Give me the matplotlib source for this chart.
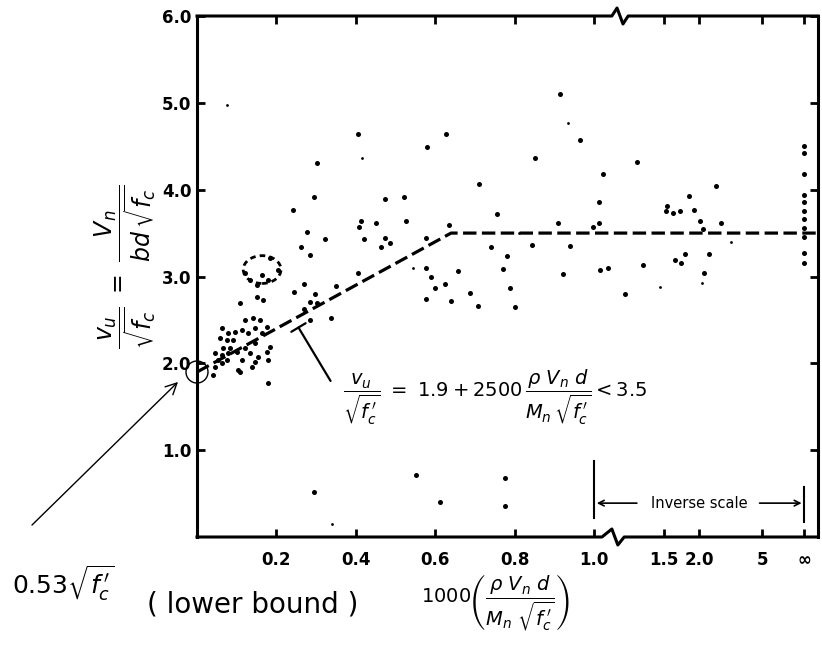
import numpy as np
import matplotlib
matplotlib.use('Agg')
import matplotlib.pyplot as plt
import matplotlib.transforms as mtransforms
from matplotlib.patches import Ellipse

# 1000 * rho*Vn*d / (Mn*sqrt(fc'))  -> x,  vu/sqrt(fc') -> y
ratio = [
    # dense group near the origin
    0.121, 0.134, 0.164, 0.179, 0.151, 0.151, 0.166, 0.108, 0.121, 0.141,
    0.159, 0.176, 0.063, 0.078, 0.096, 0.113, 0.128, 0.146, 0.164, 0.058,
    0.076, 0.091, 0.146, 0.066, 0.083, 0.101, 0.121, 0.045, 0.063, 0.078,
    0.134, 0.053, 0.076, 0.045, 0.063, 0.113, 0.154, 0.176, 0.103, 0.139,
    0.146, 0.179, 0.040, 0.179, 0.184, 0.108, 0.184, 0.204,
    # 0.2 - 0.8
    0.405, 0.627, 0.579, 0.302, 0.710, 0.295, 0.474, 0.521, 0.242, 0.756,
    0.413, 0.408, 0.451, 0.526, 0.635, 0.277, 0.322, 0.262, 0.421, 0.474,
    0.486, 0.463, 0.577, 0.741, 0.285, 0.577, 0.589, 0.657, 0.625, 0.600,
    0.577, 0.640, 0.688, 0.708, 0.405, 0.270, 0.244, 0.350, 0.297, 0.285,
    0.302, 0.270, 0.285, 0.338,
    # 0.8 - 1.0
    0.914, 0.965, 0.851, 0.909, 0.997, 0.844, 0.940, 0.781, 0.771, 0.788,
    0.801, 0.922,
    # low values
    0.552, 0.776, 0.612, 0.776, 0.295,
    # inverse scale
    1.045, 1.025, 1.025, 1.03, 1.07, 1.17, 1.26, 1.30, 1.53, 1.52,
    1.60, 1.69, 1.82, 1.90, 2.02, 2.07, 2.38, 2.52, 1.76, 1.63,
    1.70, 2.21, 2.10,
    # infinite
    np.inf, np.inf, np.inf, np.inf, np.inf, np.inf, np.inf, np.inf, np.inf,
    np.inf, np.inf,
]
vu = [
    3.04, 2.96, 3.02, 2.96, 2.90, 2.76, 2.73, 2.70, 2.50, 2.52,
    2.50, 2.42, 2.41, 2.35, 2.36, 2.38, 2.35, 2.41, 2.35, 2.29,
    2.27, 2.27, 2.23, 2.18, 2.18, 2.13, 2.18, 2.12, 2.10, 2.12,
    2.12, 2.04, 2.04, 1.96, 2.00, 2.04, 2.07, 2.13, 1.92, 1.96,
    2.02, 2.04, 1.87, 1.77, 2.19, 1.90, 3.21, 3.08,
    4.64, 4.64, 4.49, 4.31, 4.06, 3.92, 3.89, 3.92, 3.77, 3.72,
    3.64, 3.57, 3.62, 3.64, 3.59, 3.51, 3.43, 3.34, 3.43, 3.44,
    3.39, 3.34, 3.44, 3.34, 3.25, 3.10, 3.00, 3.06, 2.91, 2.87,
    2.74, 2.72, 2.81, 2.66, 3.04, 2.91, 2.82, 2.89, 2.80, 2.71,
    2.70, 2.63, 2.50, 2.52,
    5.10, 4.57, 4.37, 3.62, 3.57, 3.36, 3.35, 3.24, 3.09, 2.87,
    2.65, 3.03,
    0.71, 0.68, 0.40, 0.36, 0.52,
    4.18, 3.86, 3.62, 3.08, 3.10, 2.80, 4.32, 3.13, 3.81, 3.76,
    3.73, 3.76, 3.93, 3.77, 3.64, 3.55, 4.04, 3.62, 3.26, 3.19,
    3.15, 3.26, 3.04,
    4.50, 4.42, 4.18, 3.94, 3.86, 3.76, 3.66, 3.56, 3.46, 3.27, 3.16,
]
# faint, smaller marks
ratio_small = [0.415, 0.934, 0.811, 1.46, 2.87, 2.05, 0.076, 0.544, 0.34]
vu_small = [4.36, 4.77, 3.50, 2.88, 3.40, 2.93, 4.97, 3.10, 0.15]

x_ticks = [0.2, 0.4, 0.6, 0.8, 1.0, 1.5, 2.0, 5, np.inf]
x_ticklabels = ['0.2', '0.4', '0.6', '0.8', '1.0', '1.5', '2.0', '5', '∞']
y_ticks = [1, 2, 3, 4, 5, 6]

INTERCEPT = 1.9
SLOPE = 2.5      # 2500 / 1000
CAP = 3.5
INV_SPAN = 0.53  # width of the inverse-scale part, in units of the linear part


def xpos(x):
    # linear up to 1.0, then 1/x scale out to infinity
    x = np.asarray(x, dtype=float)
    with np.errstate(divide='ignore', invalid='ignore'):
        inv = 1 + INV_SPAN * (1 - 1 / x)
    return np.where(x <= 1, x, inv)


W, H = 822, 646
fig = plt.figure(figsize=(W / 100, H / 100), dpi=100)
ax = fig.add_axes([197 / W, 109 / H, 621 / W, 521 / H])
XMAX = 621 / 397
ax.set_xlim(0, XMAX)
ax.set_ylim(0, 6)

ax.scatter(xpos(ratio), vu, s=13, color='black', zorder=3, linewidths=0)
ax.scatter(xpos(ratio_small), vu_small, s=4, color='black', zorder=3, linewidths=0)

# design line
x_kink = (CAP - INTERCEPT) / SLOPE
ax.plot([0, xpos(x_kink), XMAX], [INTERCEPT, CAP, CAP], color='black',
        lw=2.3, linestyle=(0, (4.2, 1.7)), zorder=2)

# ticks
ax.set_xticks(xpos(x_ticks))
ax.set_xticklabels(x_ticklabels, fontweight='bold')
ax.set_yticks(y_ticks)
ax.set_yticklabels([f'{t:.1f}' for t in y_ticks], fontweight='bold')
ax.tick_params(direction='in', top=True, right=True, length=6, width=2,
               labelsize=12)
ax.tick_params(axis='x', pad=10)
ax.tick_params(axis='y', pad=4)

# frame with the break marks at 1.0
for side in ['top', 'bottom']:
    ax.spines[side].set_visible(False)
for side in ['left', 'right']:
    ax.spines[side].set_linewidth(2.2)
trans = mtransforms.blended_transform_factory(ax.transData, ax.transAxes)
d = 8 / 521
ax.plot([0, 1.02, 1.045, 1.06, 1.076, XMAX], [0, 0, d, -d, 0, 0],
        color='black', lw=2.2, transform=trans, clip_on=False, zorder=4)
ax.plot([0, 1.045, 1.058, 1.073, 1.086, XMAX], [1, 1, 1 + d, 1 - d, 1, 1],
        color='black', lw=2.2, transform=trans, clip_on=False, zorder=4)

# inverse scale marker
ax.plot([xpos(1.0)] * 2, [0.22, 0.88], color='black', lw=1.5)
ax.plot([xpos(np.inf)] * 2, [0.17, 0.58], color='black', lw=1.5)
x_mid = (xpos(1.0) + xpos(np.inf)) / 2
ax.text(x_mid, 0.39, 'Inverse scale', ha='center', va='center', fontsize=10.5)
ax.annotate('', xy=(xpos(1.0), 0.39), xytext=(1.115, 0.39),
            arrowprops=dict(arrowstyle='->', lw=1.2, color='black'))
ax.annotate('', xy=(xpos(np.inf), 0.39), xytext=(1.41, 0.39),
            arrowprops=dict(arrowstyle='->', lw=1.2, color='black'))

# equation and its leader
ax.annotate('', xy=(0.252, 2.44), xytext=(0.34, 1.77),
            arrowprops=dict(arrowstyle='-[, widthB=0.6, lengthB=0', lw=1.6,
                            color='black'))
fig.text(343 / W, 1 - 397 / H,
         r'$\dfrac{v_u}{\sqrt{f_c^{\,\prime}}}\ =\ 1.9 + 2500\,'
         r'\dfrac{\rho\ V_n\ d}{M_n\,\sqrt{f_c^{\,\prime}}} < 3.5$',
         ha='left', va='center', fontsize=14)

# axis titles
fig.text(125 / W, 1 - 267 / H,
         r'$\dfrac{v_u}{\sqrt{f_c}}\ =\ \dfrac{V_n}{bd\,\sqrt{f_c}}$',
         rotation=90, ha='center', va='center', fontsize=17)
fig.text(495 / W, 1 - 603 / H,
         r'$1000\left(\dfrac{\rho\ V_n\ d}{M_n\ \sqrt{f_c^{\,\prime}}}\right)$',
         ha='center', va='center', fontsize=14)

# hand-drawn notes
ax.add_patch(Ellipse((0.164, 3.08), 0.095, 0.32, fill=False, lw=2,
                     linestyle=(0, (2, 1.5)), color='black', zorder=4))
ax.add_patch(Ellipse((0, INTERCEPT), 22 / 397, 22 / 86.8, fill=False, lw=1,
                     color='black', clip_on=False, zorder=4))
ax.annotate('', xy=(180, H - 380), xytext=(30, H - 527),
            xycoords='figure pixels', textcoords='figure pixels',
            arrowprops=dict(arrowstyle='->', lw=1, color='black',
                            mutation_scale=20))
fig.text(12 / W, 1 - 583 / H, r'0.53$\sqrt{f_c^{\,\prime}}$', ha='left',
         va='center', fontsize=18)
fig.text(147 / W, 1 - 605 / H, '( lower bound )', ha='left', va='center',
         fontsize=20)

fig.savefig('out.png', dpi=100)
